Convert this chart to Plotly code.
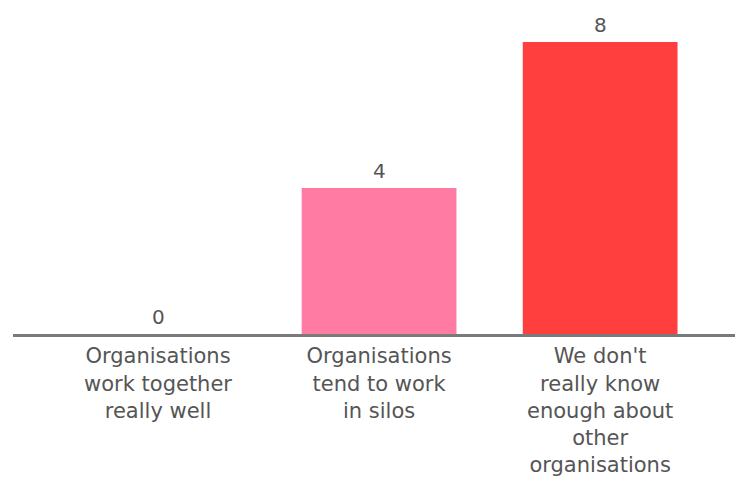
import plotly.graph_objects as go

categories = [
    "Organisations<br>work together<br>really well",
    "Organisations<br>tend to work<br>in silos",
    "We don't<br>really know<br>enough about<br>other<br>organisations",
]
values = [0, 4, 8]
bar_colors = ["#FF7BA3", "#FF7BA3", "#FF3F3D"]
positions = list(range(len(values)))

fig = go.Figure(
    go.Bar(
        x=positions,
        y=values,
        marker=dict(color=bar_colors, line=dict(width=0)),
        width=0.70,
        cliponaxis=False,
    )
)

# value labels above each bar
for xi, v in zip(positions, values):
    fig.add_annotation(
        x=xi,
        y=v,
        text=str(v),
        showarrow=False,
        yanchor="bottom",
        yshift=3,
        font=dict(family="DejaVu Sans", size=20, color="#555555"),
    )

fig.update_layout(
    width=735,
    height=479,
    margin=dict(l=13, r=0, t=0, b=145),
    paper_bgcolor="white",
    plot_bgcolor="white",
    showlegend=False,
    xaxis=dict(
        tickmode="array",
        tickvals=positions,
        ticktext=categories,
        range=[-0.656, 2.61],
        showline=True,
        linecolor="#7a7a7a",
        linewidth=3,
        showgrid=False,
        zeroline=False,
        ticks="",
        ticklabelstandoff=1,
        tickfont=dict(family="DejaVu Sans", size=21, color="#555555"),
    ),
    yaxis=dict(
        range=[0, 9.15],
        visible=False,
        showgrid=False,
        zeroline=False,
    ),
)

fig.write_html("out.html")
